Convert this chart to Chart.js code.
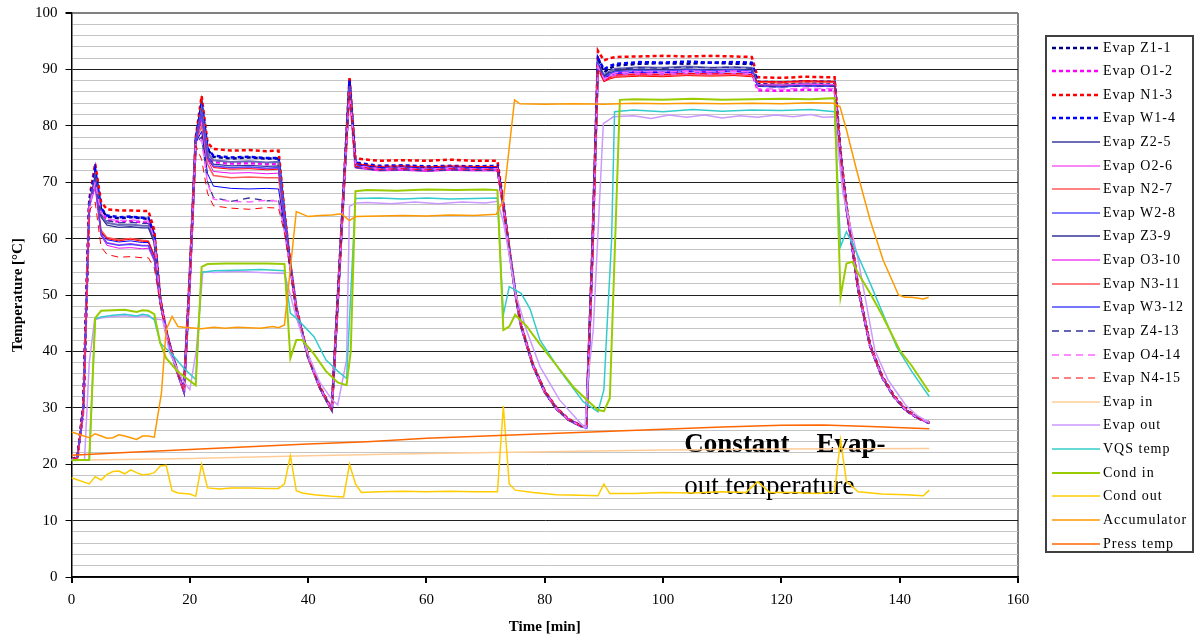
<!DOCTYPE html>
<html>
<head>
<meta charset="utf-8">
<script src="https://cdn.jsdelivr.net/npm/chart.js@4.4.0/dist/chart.umd.min.js"></script>
<style>
html,body{margin:0;padding:0;background:#fff;}
#wrap{position:relative;width:1199px;height:637px;}
#legend{position:absolute;left:1045px;top:35px;width:145px;height:514px;border:2px solid #404040;
  font-family:'Liberation Serif',serif;font-size:14px;letter-spacing:1px;color:#000;}
.row{position:absolute;left:0;height:24px;display:flex;align-items:center;white-space:nowrap;}
.row svg{margin-left:5px;margin-right:3px;flex:none;}
</style>
</head>
<body>
<div id="wrap">
  <canvas id="c" width="1199" height="637"></canvas>
  <div id="legend"></div>
</div>
<script>
// ===================== DATA =====================
// time axis shared by the 15 evaporator sensors [min]
const tEvap=[0,1,2,3,4,5,6,8,10,12,13,14,15,16,17,18,19,20,21,22,23,24,27,30,33,35,36,37,38,40,42,44,45,46,47,48,52,56,60,64,68,72,73,74,75,76,78,80,82,84,86,87,88,89,90,91,92,96,100,104,108,112,115,116,120,124,128,129,130,131,132,133,135,137,139,141,143,145];

const evapZ1_1=[20.8,21.2,30,66.5,72,65.2,63.9, 63.6,63.8,63.6,63.5, 60.5,49,43.5,39.5,36,33,
  53,77.5,84,75.8,74.5, 74.2,74.4,74.2,74.2, 64,55,47.5,39,33.5,29.6,
  49,68.5,88,73.2, 72.6,72.8,72.6,72.7,72.5,72.6,
  66,58,50.5,44.5,37.5,32.8,29.8,27.9,26.8,26.5,
  56,92,89.5,90.2,90.7, 91,91.1,91,91.2,91,91, 87.6,87.7,87.5,87.7,87.6,
  75,65.5,58.5,51,41,35.5,32,29.6,28.2,27.3];
const evapO1_2=[20.8,21.1,29.5,66,71,64.6,63.3, 63,63.1,62.9,62.9, 60,49.2,43.6,39.6,36.1,33.1,
  52.5,77,83,75,73.6, 73.3,73.4,73.2,73.3, 63.5,55,47.6,39.1,33.6,29.7,
  48.5,68,87,72.8, 72.3,72.4,72.2,72.4,72.3,72.3,
  65.5,57.8,50.4,44.6,37.6,32.9,29.9,28,26.9,26.6,
  55,91,88.6,89,89.4, 89.6,89.5,89.7,89.6,89.8,89.6, 86.3,86.2,86.4,86.3,86.4,
  74.5,65.3,58.4,51,41,35.6,32.1,29.7,28.3,27.4];
const evapN1_3=[20.9,21.3,30.5,67,73.3,66.5,65.2, 65,65,64.9,64.9, 61.5,49.5,43.8,39.7,36.2,33.2,
  54,78,85.3,77,75.9, 75.6,75.7,75.5,75.6, 65,55.5,47.8,39.2,33.7,29.8,
  49.5,69,88.7,74.2, 73.8,73.9,73.8,74,73.8,73.8,
  66.5,58.3,50.7,44.7,37.7,33,30,28,26.9,26.6,
  57,93.3,91.6,92,92.2, 92.3,92.4,92.3,92.4,92.3,92.2, 88.6,88.5,88.7,88.6,88.6,
  75.5,66,59,51.3,41.2,35.7,32.2,29.8,28.3,27.4];
const evapW1_4=[20.8,21.2,30.2,66.5,72.3,65.4,64.1, 63.8,63.9,63.7,63.7, 60.6,49,43.5,39.5,36,33,
  53.2,77.6,84,76,74.7, 74.4,74.5,74.3,74.3, 64.2,55.2,47.5,39,33.5,29.6,
  49,68.6,88,73.5, 72.9,73,72.8,72.9,72.8,72.9,
  66,58,50.5,44.5,37.5,32.8,29.8,27.9,26.8,26.5,
  56.2,92,90,90.6,91, 91.3,91.2,91.4,91.2,91.3,91.2, 87.8,87.7,87.9,87.8,87.8,
  75,65.5,58.5,51,41,35.5,32,29.6,28.2,27.3];
const evapZ2_5=[20.8,21.1,29.8,66,71,64.2,62.8, 62.4,62.5,62.3,62.3, 59.5,48.8,43.4,39.4,35.9,32.9,
  52.8,77.2,83,75.2,73.9, 73.6,73.7,73.5,73.6, 63.8,55,47.4,39,33.5,29.6,
  48.8,68.3,87,72.7, 72.2,72.3,72.1,72.3,72.2,72.2,
  65.8,57.9,50.5,44.5,37.5,32.8,29.8,27.9,26.8,26.5,
  55.5,91,89,89.7,90.1, 90.4,90.3,90.5,90.3,90.4,90.3, 87.3,87.2,87.4,87.3,87.3,
  74.8,65.4,58.5,51,41,35.5,32,29.6,28.2,27.3];
const evapO2_6=[20.8,21.1,29.5,65.5,69,60.5,58.8, 58.3,58.4,58.2,58.3, 56,48.5,43.3,39.4,35.9,32.9,
  52.5,77,81,74,71.9, 71.6,71.7,71.5,71.6, 63,54.8,47.4,39,33.5,29.6,
  48.5,68,86,72.5, 72,72.1,71.9,72.1,72,72,
  65.5,57.8,50.4,44.5,37.5,32.8,29.8,27.9,26.8,26.5,
  55,90.5,88,88.7,89, 89.2,89.1,89.3,89.2,89.3,89.1, 87.1,87,87.2,87.1,87.1,
  74.5,65.3,58.4,51,41,35.5,32,29.6,28.2,27.3];
const evapN2_7=[20.8,21.1,29.6,65.8,70,61.5,60.2, 59.8,60,59.7,59.6, 57,48.6,43.3,39.4,35.9,32.9,
  52.5,77,80,73.2,71.2, 70.8,70.9,70.8,70.8, 62.5,54.8,47.4,39,33.5,29.6,
  48.5,68,86.5,73, 72.5,72.6,72.4,72.6,72.5,72.5,
  65.6,57.9,50.5,44.5,37.5,32.8,29.8,27.9,26.8,26.5,
  55.2,90.5,88,88.5,88.8, 89,88.9,89.1,89,89.1,88.9, 87.7,87.6,87.8,87.7,87.7,
  74.6,65.4,58.5,51,41,35.5,32,29.6,28.2,27.3];
const evapW2_8=[20.8,21.1,29.8,65.8,70,61,59.8, 59.4,59.6,59.3,59.3, 56.8,48.6,43.3,39.4,35.9,32.9,
  52.6,77,79,71.5,69.3, 68.9,68.8,68.9,68.8, 62,54.5,47.3,39,33.5,29.6,
  48.6,68.2,87,73.1, 72.6,72.7,72.5,72.7,72.6,72.6,
  65.7,57.9,50.5,44.5,37.5,32.8,29.8,27.9,26.8,26.5,
  55.5,91,88.5,89,89.3, 89.5,89.4,89.6,89.5,89.6,89.4, 87,86.9,87.1,87,87,
  74.7,65.4,58.5,51,41,35.5,32,29.6,28.2,27.3];
const evapZ3_9=[20.8,21.1,29.8,66,71,63.8,62.4, 62,62.1,61.9,61.9, 59.2,48.8,43.4,39.4,35.9,32.9,
  52.8,77.2,82.5,74.6,73.2, 72.9,73,72.8,72.9, 63.6,55,47.4,39,33.5,29.6,
  48.8,68.3,87,72.8, 72.3,72.4,72.2,72.4,72.3,72.3,
  65.8,57.9,50.5,44.5,37.5,32.8,29.8,27.9,26.8,26.5,
  55.5,91,88.8,89.4,89.8, 90,89.9,90.1,89.9,90,89.9, 87.2,87.1,87.3,87.2,87.2,
  74.8,65.4,58.5,51,41,35.5,32,29.6,28.2,27.3];
const evapO3_10=[20.8,21.1,29.6,65.6,69.5,60.8,59.3, 58.9,59.1,58.8,58.8, 56.4,48.6,43.3,39.4,35.9,32.9,
  52.5,77,82,74.3,72.8, 72.5,72.6,72.4,72.5, 63.3,54.9,47.4,39,33.5,29.6,
  48.5,68,86.5,72.7, 72.2,72.3,72.1,72.3,72.2,72.2,
  65.6,57.8,50.4,44.5,37.5,32.8,29.8,27.9,26.8,26.5,
  55.2,90.5,88,88.7,89, 89.2,89.1,89.3,89.2,89.3,89.1, 87.3,87.2,87.4,87.3,87.3,
  74.6,65.3,58.4,51,41,35.5,32,29.6,28.2,27.3];
const evapN3_11=[20.8,21.1,29.7,65.8,70,61.2,60, 59.6,59.9,59.5,59.5, 57,48.6,43.3,39.4,35.9,32.9,
  52.6,77,82,74.2,72.6, 72.3,72.4,72.2,72.3, 63.3,54.9,47.4,39,33.5,29.6,
  48.6,68.2,87,73.3, 72.8,72.9,72.7,72.9,72.8,72.8,
  65.8,57.9,50.5,44.5,37.5,32.8,29.8,27.9,26.8,26.5,
  55.5,90.5,87.8,88.3,88.6, 88.8,88.7,88.9,88.8,88.9,88.7, 87.9,87.8,88,87.9,87.9,
  74.8,65.4,58.5,51,41,35.5,32,29.6,28.2,27.3];
const evapW3_12=[20.8,21.1,29.8,65.8,70,60.7,59.2, 58.8,59,58.7,58.7, 56.3,48.6,43.3,39.4,35.9,32.9,
  52.6,77,82,74.4,72.9, 72.6,72.7,72.5,72.6, 63.4,54.9,47.4,39,33.5,29.6,
  48.6,68.2,87,72.9, 72.4,72.5,72.3,72.5,72.4,72.4,
  65.7,57.9,50.5,44.5,37.5,32.8,29.8,27.9,26.8,26.5,
  55.5,91,88.6,89.2,89.6, 89.8,89.7,89.9,89.8,89.9,89.7, 87,86.9,87.1,87,87,
  74.7,65.4,58.5,51,41,35.5,32,29.6,28.2,27.3];
const evapZ4_13=[20.8,21.1,29.6,65.8,70,64.2,63.2, 62.8,62.9,62.7,62.7, 59.8,48.8,43.4,39.4,35.9,32.9,
  52.5,77,78,70,67.3, 66.6,67.2,66.7,66.8, 61.5,54.5,47.3,39,33.5,29.6,
  48.5,68,86,72.6, 72.1,72.2,72,72.2,72.1,72.1,
  65.6,57.8,50.4,44.5,37.5,32.8,29.8,27.9,26.8,26.5,
  55.2,91,88.8,89.6,90, 90.3,90.2,90.4,90.3,90.4,90.2, 87,86.9,87.1,87,87,
  74.6,65.3,58.4,51,41,35.5,32,29.6,28.2,27.3];
const evapO4_14=[20.8,21.1,29.5,65.6,70,64.5,63.5, 63.2,63.3,63.1,63.1, 60.1,48.9,43.4,39.4,35.9,32.9,
  52.4,76.8,77.5,69.8,67, 66.6,66.5,66.8,66.6, 61.3,54.4,47.3,39,33.5,29.6,
  48.5,68,86,72.9, 72.4,72.5,72.3,72.5,72.4,72.4,
  65.6,57.8,50.4,44.5,37.5,32.8,29.8,27.9,26.8,26.5,
  55,90.5,88.3,89,89.4, 89.6,89.5,89.7,89.6,89.7,89.5, 86.6,86.5,86.7,86.6,86.6,
  74.5,65.3,58.4,51,41,35.5,32,29.6,28.2,27.3];
const evapN4_15=[20.8,21.1,29.5,65,66.5,58.5,57.2, 56.7,56.8,56.6,56.6, 54.8,48.3,43.2,39.3,35.9,32.9,
  52.4,76.5,74,68,65.8, 65.4,65.2,65.5,65.4, 61,54.3,47.2,39,33.5,29.6,
  48.4,67.8,86,72.8, 72.3,72.4,72.2,72.4,72.3,72.3,
  65.6,57.8,50.4,44.5,37.5,32.8,29.8,27.9,26.8,26.5,
  55,90,87.8,88.6,89, 89.2,89.1,89.3,89.2,89.3,89.1, 87.8,87.7,87.9,87.8,87.8,
  74.6,65.3,58.4,51,41,35.5,32,29.6,28.2,27.3];

const tEvapIn=[0,20,40,60,80,100,120,145];
const evapIn=[20.7,21.0,21.5,21.9,22.2,22.5,22.7,22.8];

const tEvapOut=[0,2.2,3,3.9,5,7,9,11,12,13,14,15.4,16.6,18.8,20,21.1,22.2,24,28,32,36,37,38,40,42,44,45,46.5,47,48,50,54,58,62,66,70,72,73,74,75,76.9,79.2,82.5,86.8,87.3,88.2,89.9,91.6,95,98,101,104,107,110,113,116,119,122,125,127,129,130.4,133,135.8,138,141,143,145];
const evapOut=[20.7,20.8,38,45.6,45.9,46.2,46.3,46.1,46.3,46.2,45.8,45.6,39.7,34.9,33.2,40.2,54.1,54,54.2,54,53.8,50,46,39.5,34.5,31.5,30.5,38.5,65.7,66.3,66.4,66.2,66.5,66.2,66.5,66.3,66.6,63,57,50.5,43.8,37.3,31.4,26.4,34.9,43.8,80.4,81.6,81.8,81.3,81.9,81.5,81.9,81.4,81.8,81.5,81.9,81.6,82,81.5,81.6,68,56.2,40.2,35,30.5,28.6,27.4];

const tVqs=[0,3,4,5,7,9,11,12,13,14,15,17,19,21,22,24,28,32,36,37,38,41,43,45,46.5,48,52,56,60,64,68,72,73,74,76,77.5,79.2,82.5,86.5,89,90,90.5,91.3,91.8,95,100,105,110,115,120,125,129,130,131,132,135,139.5,142,145];
const vqsTemp=[20.7,20.7,45.8,46.1,46.4,46.6,46.3,46.6,46.4,45.6,41.5,39.5,37,35,54,54.3,54.4,54.5,54.3,46.8,45.9,42.6,38.5,36.5,35.2,67.1,67.2,67,67.2,67,67.1,67.2,46.5,51.5,50.3,47.6,42,36.7,31.1,29.3,33.2,43.8,59.8,82.5,82.8,82.5,82.9,82.6,82.8,82.7,82.9,82.5,58.6,61.2,59.2,52.1,40.8,36.5,32];

const tCondIn=[0,3,4,5,7,9,11,12,13,14,15,16,18,21,22,23,26,30,33,36,37,38,39,41,43,45,46.5,47.2,48,50,55,60,65,70,72,73,74,75,77,79,82,85,87,89,90,91,92.7,95,100,105,110,115,120,125,129,130,131,132,133,135,137,140,142,145];
const condIn=[20.7,20.8,45.9,47.2,47.3,47.4,47,47.3,47.2,46.6,41.5,38.8,36.4,34,55,55.5,55.6,55.6,55.6,55.5,38.8,42,42,39.5,36.5,34.5,34,40,68.4,68.6,68.5,68.7,68.6,68.7,68.6,43.8,44.4,46.5,44.4,41.5,37.5,33.5,31.5,29.6,29.4,31.7,84.6,84.7,84.6,84.8,84.6,84.7,84.8,84.7,84.9,49.7,55.6,55.9,53.8,50.3,46.5,40.2,37.5,32.8];

const tCondOut=[0,3,4,5,6,7,8,9,10,11,12,13,14,15,16,17,18,19,20,21,22,23,25,27,30,33,35,36,37,38,39,41,44,46,47,48,49,52,56,60,64,68,72,73,74,75,78,82,86,89,90,91,95,100,105,110,114,116,118,122,126,129,130,131,133,137,141,144,145];
const condOut=[17.6,16.5,17.8,17.2,18.2,18.7,18.8,18.3,19,18.5,18.1,18.2,18.5,19.7,19.8,15.3,14.9,14.8,14.7,14.3,20,15.8,15.6,15.8,15.8,15.7,15.7,16.5,21.5,15.3,14.9,14.6,14.3,14.2,20,16.5,15,15.1,15.2,15.1,15.2,15.1,15.1,30.3,16.5,15.4,15,14.6,14.5,14.4,16.5,14.8,14.8,15,14.9,15.1,15,16.9,15,15,14.8,15.1,24.3,16.9,15.1,14.7,14.6,14.4,15.4];

const tAccu=[0,3,4,5,6,7,8,9,10,11,12,13,14,15.2,16,17,18,19,20,22,24,26,28,30,32,34,35,36,38,40,42,44,45.6,47,48,52,56,60,64,68,71.8,73,74.9,75.8,80,85,90,95,100,105,110,115,120,125,128.8,129.9,131,132.7,135,137.2,139.8,140.9,142,144,144.9];
const accumulator=[25.7,24.7,25.4,25,24.6,24.7,25.2,25,24.7,24.4,25,25,24.8,32.6,43.8,46.2,44.4,44.3,44.2,44,44.3,44.1,44.3,44.2,44.1,44.4,44.2,44.7,64.8,63.9,64.1,64.2,64.4,63.2,63.9,64,64.1,64,64.2,64.1,64.3,66.8,84.6,83.9,83.8,83.9,83.8,84,83.9,84,83.9,84,83.9,84.1,84,83.4,79.3,72.2,63.3,56.2,50,49.6,49.6,49.3,49.6];

const tPress=[0,10,20,30,40,50,60,70,80,90,100,110,120,127,135,145];
const pressTemp=[21.6,22.1,22.6,23.1,23.6,24.0,24.6,25.0,25.4,25.8,26.2,26.6,26.9,26.95,26.7,26.3];

// ===================== CHART =====================
const SERIF='"Liberation Serif", "Times New Roman", serif';
const DOT=[4,3], DASH=[7,5];

function serie(label,xs,ys,color,width,dash){
  return {label,data:xs.map((x,i)=>({x,y:ys[i]})),borderColor:color,backgroundColor:color,
    borderWidth:width,borderDash:dash||[],pointRadius:0,pointHoverRadius:0,tension:0,fill:false};
}

const datasets=[
  serie('Evap Z1-1',tEvap,evapZ1_1,'#000080',2.5,DOT),
  serie('Evap O1-2',tEvap,evapO1_2,'#FF00FF',2.5,DOT),
  serie('Evap N1-3',tEvap,evapN1_3,'#FF0000',2.5,DOT),
  serie('Evap W1-4',tEvap,evapW1_4,'#0000FF',2.5,DOT),
  serie('Evap Z2-5',tEvap,evapZ2_5,'#6B6BB8',2,null),
  serie('Evap O2-6',tEvap,evapO2_6,'#EE10EE',1,null),
  serie('Evap N2-7',tEvap,evapN2_7,'#FF5A5A',1.5,null),
  serie('Evap W2-8',tEvap,evapW2_8,'#0000FF',1,null),
  serie('Evap Z3-9',tEvap,evapZ3_9,'#333399',1.3,null),
  serie('Evap O3-10',tEvap,evapO3_10,'#F040F0',1.3,null),
  serie('Evap N3-11',tEvap,evapN3_11,'#FF0000',1,null),
  serie('Evap W3-12',tEvap,evapW3_12,'#4848FF',1.3,null),
  serie('Evap Z4-13',tEvap,evapZ4_13,'#333399',1.3,DASH),
  serie('Evap O4-14',tEvap,evapO4_14,'#FF66FF',1.5,DASH),
  serie('Evap N4-15',tEvap,evapN4_15,'#FF0000',1,DASH),
  serie('Evap in',tEvapIn,evapIn,'#FFCC99',1.5,null),
  serie('Evap out',tEvapOut,evapOut,'#CC99FF',1.5,null),
  serie('VQS temp',tVqs,vqsTemp,'#33CCCC',1.5,null),
  serie('Cond in',tCondIn,condIn,'#99CC00',2,null),
  serie('Cond out',tCondOut,condOut,'#FFCC00',1.5,null),
  serie('Accumulator',tAccu,accumulator,'#FF9900',1.5,null),
  serie('Press temp',tPress,pressTemp,'#FF6600',1.5,null),
];
// later series on top, like the original spreadsheet
datasets.forEach((d,i)=>{d.order=datasets.length-i;});

const notePlugin={id:'note',beforeDatasetsDraw(chart){
  const {ctx,scales:{x,y}}=chart;
  ctx.save();
  ctx.fillStyle='#000';
  ctx.textBaseline='alphabetic';
  ctx.font='bold 27px '+SERIF;
  ctx.fillText('Constant    Evap-',x.getPixelForValue(103.6),y.getPixelForValue(22.2));
  ctx.font='27px '+SERIF;
  ctx.fillText('out temperature',x.getPixelForValue(103.6),y.getPixelForValue(14.7));
  ctx.restore();
}};

const chart=new Chart(document.getElementById('c').getContext('2d'),{
  type:'line',
  data:{datasets},
  options:{
    responsive:false,animation:false,
    layout:{autoPadding:false,padding:{left:5,right:181,top:13,bottom:0}},
    plugins:{legend:{display:false},tooltip:{enabled:false}},
    scales:{
      x:{type:'linear',min:0,max:160,
        ticks:{stepSize:20,color:'#000',font:{family:SERIF,size:15},padding:8,maxRotation:0},
        grid:{color:c=>c.tick&&c.tick.value===160?'#808080':'rgba(0,0,0,0)',lineWidth:2,tickColor:'#000',tickLength:6},
        border:{color:'#000',width:1.5},
        title:{display:true,text:'Time [min]',color:'#000',font:{family:SERIF,size:15,weight:'bold'},padding:{top:1,bottom:1}}},
      y:{min:0,max:100,
        ticks:{stepSize:2,autoSkip:false,color:'#000',font:{family:SERIF,size:15,lineHeight:0.6},padding:8,
          callback:v=>v%10===0?v:''},
        grid:{color:c=>{const v=c.tick.value;return v===100?'#808080':v%10===0?'#202020':'#C4C4C4';},
          lineWidth:c=>c.tick.value===100?2:1,
          tickColor:c=>c.tick.value%10===0?'#000':'rgba(0,0,0,0)',tickLength:6},
        border:{color:'#000',width:1.5},
        title:{display:true,text:'Temperature [°C]',color:'#000',font:{family:SERIF,size:15,weight:'bold'},padding:{top:4,bottom:0}}}
    }
  },
  plugins:[notePlugin]
});

// ===================== LEGEND =====================
const leg=document.getElementById('legend');
chart.data.datasets.forEach((d,i)=>{
  const row=document.createElement('div');
  row.className='row';
  row.style.top=(i*23.62-1.5)+'px';
  row.innerHTML=`<svg width="48" height="8"><line x1="0" y1="4" x2="48" y2="4" stroke="${d.borderColor}" stroke-width="${d.borderWidth}" stroke-dasharray="${d.borderDash.join(',')}"/></svg><span>${d.label}</span>`;
  leg.appendChild(row);
});
</script>
</body>
</html>
